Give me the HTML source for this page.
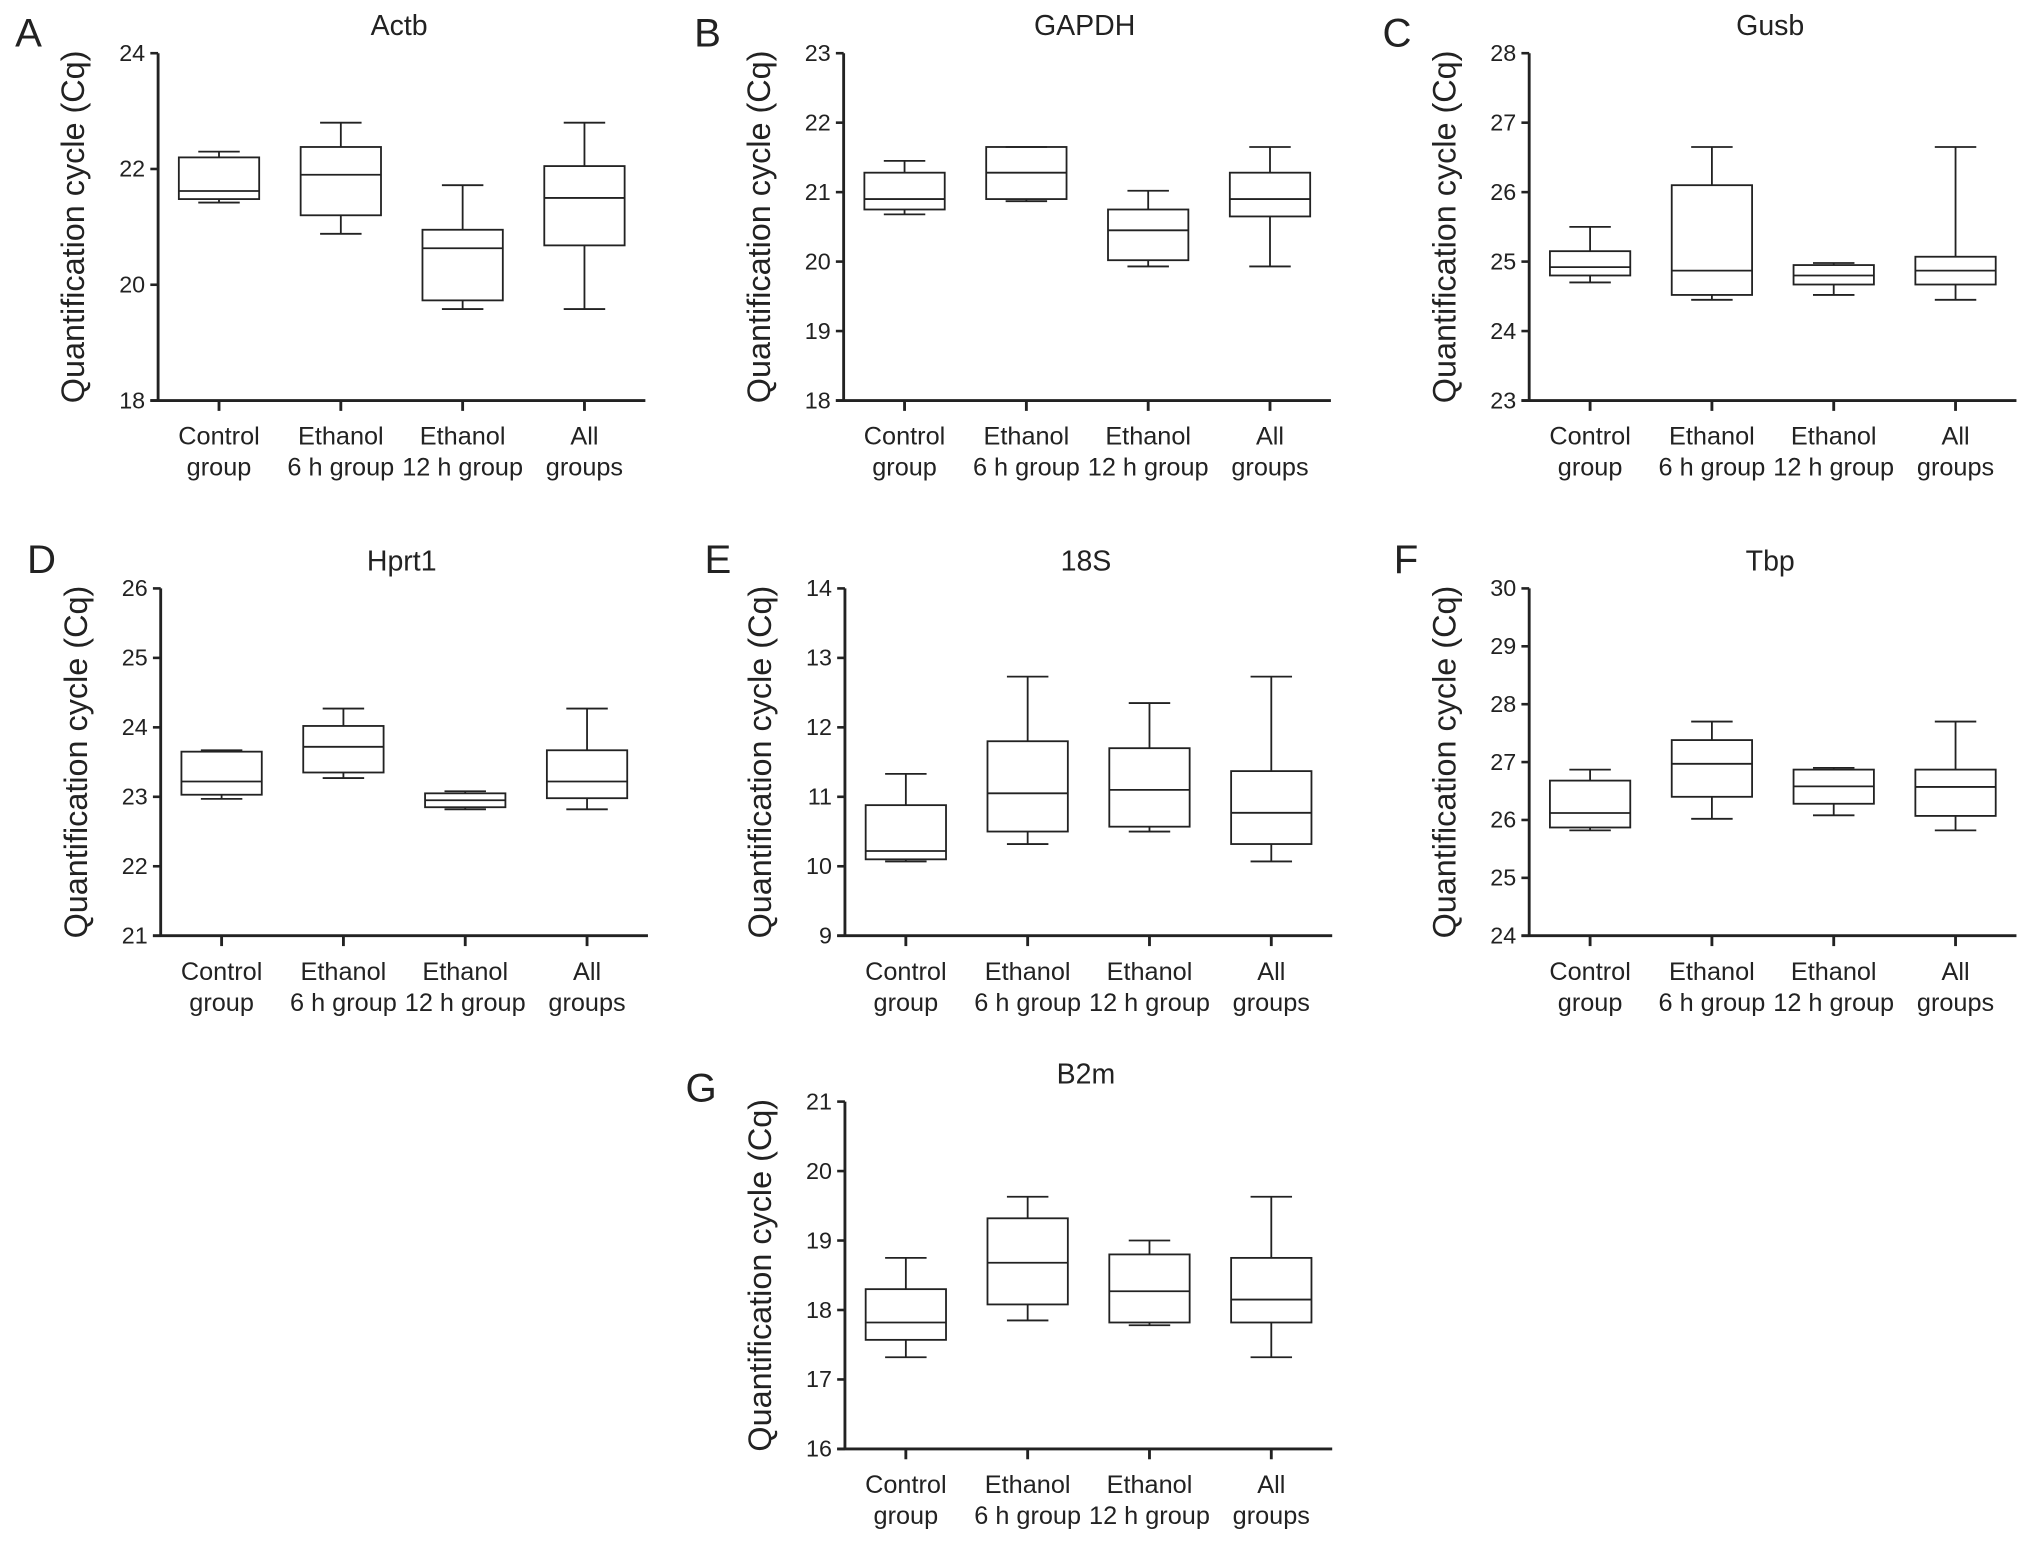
<!DOCTYPE html>
<html><head><meta charset="utf-8"><style>
html,body{margin:0;padding:0;background:#fff}
svg{display:block}
text{font-family:"Liberation Sans",Arial,sans-serif;fill:#222}
</style></head><body>
<svg id="fig" width="2032" height="1541" viewBox="0 0 1568 1189" xmlns="http://www.w3.org/2000/svg"></svg>
<script>
const categories = ["Control|group","Ethanol|6 h group","Ethanol|12 h group","All|groups"];
const panelLetters = ["A","B","C","D","E","F","G"];
const panelTitles = ["Actb","GAPDH","Gusb","Hprt1","18S","Tbp","B2m"];
const yMins = [18,18,23,21,9,24,16];
const yMaxs = [24,23,28,26,14,30,21];
const yTickSteps = [2,1,1,1,1,1,1];
// [min, q1, median, q3, max] per category
const dataActb = [[21.42,21.48,21.62,22.2,22.3],[20.88,21.2,21.9,22.38,22.8],[19.58,19.73,20.63,20.95,21.72],[19.58,20.68,21.5,22.05,22.8]];
const dataGAPDH = [[20.68,20.75,20.9,21.28,21.45],[20.87,20.9,21.28,21.65,21.65],[19.93,20.02,20.45,20.75,21.02],[19.93,20.65,20.9,21.28,21.65]];
const dataGusb = [[24.7,24.8,24.92,25.15,25.5],[24.45,24.52,24.87,26.1,26.65],[24.52,24.67,24.8,24.95,24.98],[24.45,24.67,24.87,25.07,26.65]];
const dataHprt1 = [[22.97,23.03,23.22,23.65,23.67],[23.27,23.35,23.72,24.02,24.27],[22.82,22.85,22.95,23.05,23.08],[22.82,22.98,23.22,23.67,24.27]];
const data18S = [[10.07,10.1,10.22,10.88,11.33],[10.32,10.5,11.05,11.8,12.73],[10.5,10.57,11.1,11.7,12.35],[10.07,10.32,10.77,11.37,12.73]];
const dataTbp = [[25.82,25.87,26.12,26.68,26.87],[26.02,26.4,26.97,27.38,27.7],[26.08,26.28,26.58,26.87,26.9],[25.82,26.07,26.57,26.87,27.7]];
const dataB2m = [[17.32,17.57,17.82,18.3,18.75],[17.85,18.08,18.68,19.32,19.63],[17.78,17.82,18.27,18.8,19.0],[17.32,17.82,18.15,18.75,19.63]];
const allData = [dataActb,dataGAPDH,dataGusb,dataHprt1,data18S,dataTbp,dataB2m];

const layout = [
 {ax:122,top:41,bot:309,lx:22,ly:36},
 {ax:651,top:41,bot:309,lx:546,ly:36},
 {ax:1180,top:41,bot:309,lx:1078,ly:36},
 {ax:124,top:454,bot:722,lx:32,ly:442},
 {ax:652,top:454,bot:722,lx:554,ly:442},
 {ax:1180,top:454,bot:722,lx:1085,ly:442},
 {ax:652,top:850,bot:1118,lx:541,ly:850}
];
const svg = document.getElementById('fig');
const NS = "http://www.w3.org/2000/svg";
function mk(tag, attrs, parent){
  const e = document.createElementNS(NS, tag);
  for (const k in attrs) e.setAttribute(k, attrs[k]);
  (parent||svg).appendChild(e);
  return e;
}
allData.forEach((data, p) => {
  const L = layout[p];
  const g = mk('g', {});
  
  
  const ymin = yMins[p], ymax = yMaxs[p];
  const yS = v => L.bot - (v - ymin) / (ymax - ymin) * (L.bot - L.top);
  const catX = i => L.ax + 47 + i * 94;
  const st = {stroke:'#222', fill:'none'};
  const lt = mk('text', {x:L.lx, y:L.ly, 'font-size':31, 'text-anchor':'middle'}, g);
  lt.textContent = panelLetters[p];
  
  
  const tt = mk('text', {x:L.ax + 186, y:L.top - 14, 'font-size':22, 'text-anchor':'middle'}, g);
  tt.textContent = panelTitles[p];
  
  
  const yt = mk('text', {x:0, y:0, 'font-size':25, 'text-anchor':'middle', transform:`translate(${L.ax-57},${(L.top+L.bot)/2}) rotate(-90)`}, g);
  yt.textContent = 'Quantification cycle (Cq)';
  
  
  const ya = mk('line', {x1:L.ax, y1:L.top, x2:L.ax, y2:L.bot, 'stroke-width':2.2, ...st}, g);
  
  
  const xa = mk('line', {x1:L.ax - 6, y1:L.bot, x2:L.ax + 376, y2:L.bot, 'stroke-width':2.2, ...st}, g);
  
  
  for (let v = ymin; v <= ymax + 1e-9; v += yTickSteps[p]) {
    mk('line', {x1:L.ax - 6, y1:yS(v), x2:L.ax, y2:yS(v), 'stroke-width':2, ...st}, g);
    const tl = mk('text', {x:L.ax - 10, y:yS(v) + 6, 'font-size':18, 'text-anchor':'end'}, g);
    tl.textContent = v;
    
    
  }
  categories.forEach((c, i) => {
    const x = catX(i);
    mk('line', {x1:x, y1:L.bot, x2:x, y2:L.bot + 8, 'stroke-width':2.2, ...st}, g);
    const parts = c.split('|');
    parts.forEach((s, j) => {
      const t = mk('text', {x:x, y:L.bot + 34 + j * 24, 'font-size':19.5, 'text-anchor':'middle'}, g);
      t.textContent = s;
      
      
    });
    const d = data[i];
    const bg = mk('g', {'stroke-width':1.4, ...st}, g);
    
    
    const hw = 31, cw = 16;
    mk('line', {x1:x, y1:yS(d[4]), x2:x, y2:yS(d[3])}, bg);
    mk('line', {x1:x, y1:yS(d[1]), x2:x, y2:yS(d[0])}, bg);
    mk('line', {x1:x-cw, y1:yS(d[4]), x2:x+cw, y2:yS(d[4])}, bg);
    mk('line', {x1:x-cw, y1:yS(d[0]), x2:x+cw, y2:yS(d[0])}, bg);
    mk('rect', {x:x-hw, y:yS(d[3]), width:2*hw, height:yS(d[1]) - yS(d[3])}, bg);
    mk('line', {x1:x-hw, y1:yS(d[2]), x2:x+hw, y2:yS(d[2])}, bg);
  });
});
</script>
</body></html>
